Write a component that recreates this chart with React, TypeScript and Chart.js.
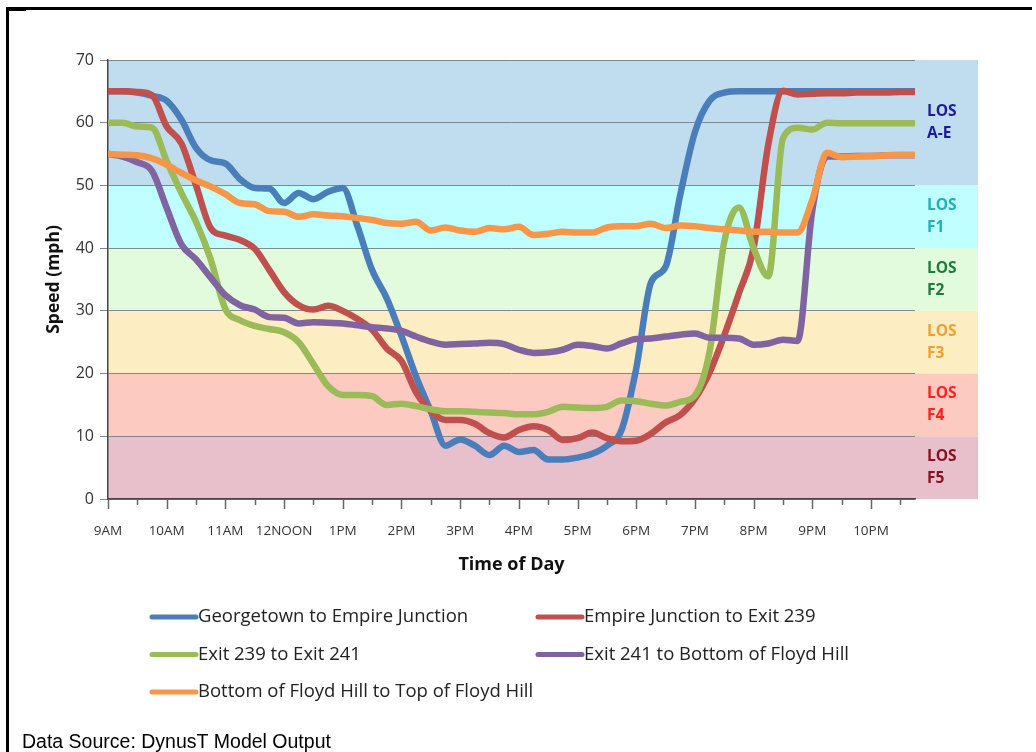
import React, { useEffect, useRef } from 'react';
import { Chart, registerables } from 'chart.js';
Chart.register(...registerables);

// ---- data ----
const HOURS = [0, 0.25, 0.5, 0.75, 1, 1.25, 1.5, 1.75, 2, 2.25, 2.5, 2.75, 3, 3.25, 3.5, 3.75, 4, 4.25, 4.5, 4.75, 5, 5.25, 5.5, 5.75, 6, 6.25, 6.5, 6.75, 7, 7.25, 7.5, 7.75, 8, 8.25, 8.5, 8.75, 9, 9.25, 9.5, 9.75, 10, 10.25, 10.5, 10.75, 11, 11.25, 11.5, 11.75, 12, 12.25, 12.5, 12.75, 13, 13.25, 13.5, 13.75];

const HOUR_LABELS = ['9AM', '10AM', '11AM', '12NOON', '1PM', '2PM', '3PM', '4PM', '5PM', '6PM', '7PM', '8PM', '9PM', '10PM'];
const TICK_VALUES = [0, 0.5, 1, 1.5, 2, 2.5, 3, 3.5, 4, 4.5, 5, 5.5, 6, 6.5, 7, 7.5, 8, 8.5, 9, 9.5, 10, 10.5, 11, 11.5, 12, 12.5, 13, 13.5];

const SERIES_NAMES = [
  'Georgetown to Empire Junction',
  'Empire Junction to Exit 239',
  'Exit 239 to Exit 241',
  'Exit 241 to Bottom of Floyd Hill',
  'Bottom of Floyd Hill to Top of Floyd Hill',
];

const GEORGETOWN = [65, 65, 64.8, 64.3, 63.5, 60.5, 56, 54, 53.5, 51, 49.6, 49.5, 47.2, 48.8, 47.8, 49, 49.6, 43.5, 36.5, 32, 26, 19.5, 14, 8.5, 9.5, 8.5, 7, 8.5, 7.5, 7.8, 6.3, 6.3, 6.6, 7.2, 8.5, 11, 20.8, 34.5, 37, 48.5, 58.5, 63.5, 64.8, 65, 65, 65, 65, 65, 65, 65, 65, 65, 65, 65, 65, 65];
const EMPIRE = [65, 65, 64.9, 64.4, 59.4, 56.7, 50, 43.2, 42, 41.3, 39.9, 36.5, 33, 30.9, 30.2, 30.8, 30, 28.7, 27, 24, 22, 17, 14, 12.6, 12.6, 12, 10.5, 9.8, 11, 11.6, 11, 9.4, 9.7, 10.6, 9.7, 9.2, 9.3, 10.4, 12.2, 13.4, 16, 20.2, 26.1, 32.8, 40, 56.5, 65.1, 64.5, 64.6, 64.7, 64.7, 64.8, 64.8, 64.8, 64.9, 64.9];
const EXIT239 = [60, 60, 59.4, 59.2, 53.9, 48.8, 44.2, 38.2, 30.3, 28.5, 27.6, 27.1, 26.6, 25, 21.5, 18, 16.6, 16.6, 16.4, 15, 15.2, 14.8, 14.3, 14, 14, 13.9, 13.8, 13.7, 13.5, 13.5, 13.9, 14.7, 14.6, 14.5, 14.7, 15.7, 15.6, 15.2, 14.9, 15.5, 16.5, 23.5, 41, 46.5, 40, 35.5, 57.5, 59.2, 58.9, 60, 59.9, 59.9, 59.9, 59.9, 59.9, 59.9];
const EXIT241 = [55, 54.6, 53.7, 52.3, 46.4, 40.6, 38.2, 35.3, 32.5, 30.9, 30.2, 29, 28.9, 28, 28.2, 28.1, 28, 27.7, 27.4, 27.2, 26.8, 25.9, 25.1, 24.6, 24.7, 24.8, 24.9, 24.7, 23.8, 23.3, 23.4, 23.8, 24.6, 24.4, 24, 24.8, 25.5, 25.6, 25.9, 26.2, 26.4, 25.7, 25.7, 25.6, 24.6, 24.8, 25.4, 25.2, 46, 54.6, 54.6, 54.7, 54.7, 54.8, 54.8, 54.8];
const FLOYD = [55, 54.9, 54.8, 54.3, 53.3, 52, 50.8, 49.8, 48.6, 47.2, 47, 45.9, 45.8, 45, 45.4, 45.2, 45.1, 44.8, 44.5, 44, 43.9, 44.2, 42.8, 43.3, 42.8, 42.6, 43.2, 43, 43.4, 42.1, 42.3, 42.6, 42.5, 42.5, 43.3, 43.5, 43.5, 43.9, 43.2, 43.6, 43.5, 43.2, 43, 42.8, 42.6, 42.6, 42.5, 42.5, 47.7, 55.2, 54.5, 54.6, 54.7, 54.8, 54.9, 54.9];

const SERIES_VALUES = [GEORGETOWN, EMPIRE, EXIT239, EXIT241, FLOYD];

const BAND_LOW = [50, 40, 30, 20, 10, 0];
const BAND_HIGH = [70, 50, 40, 30, 20, 10];
const BAND_NAMES = ['A-E', 'F1', 'F2', 'F3', 'F4', 'F5'];

// ---- styles ----
const SERIES_COLORS = ['#4a7ebb', '#c0504d', '#9bbb59', '#8064a2', '#f79646'];
const BAND_COLORS = ['#c0ddef', '#c0ffff', '#e2fbdc', '#fdedc3', '#fdcac1', '#e8c0cc'];
const LOS_COLORS = ['#1a1aa0', '#22b0b0', '#1a7d3e', '#f0a030', '#ff2020', '#8a1020'];
const FONT = '"Open Sans", "DejaVu Sans", sans-serif';

export default function App() {
  const ref = useRef<HTMLCanvasElement>(null);

  useEffect(() => {
    const canvas = ref.current;
    if (!canvas) return;

    const bandPlugin = {
      id: 'losBands',
      beforeDraw(chart: any) {
        const { ctx, chartArea } = chart;
        const y = chart.scales.y;
        ctx.save();
        for (let i = 0; i < BAND_LOW.length; i++) {
          const top = y.getPixelForValue(BAND_HIGH[i]);
          const bottom = y.getPixelForValue(BAND_LOW[i]);
          ctx.fillStyle = BAND_COLORS[i];
          ctx.fillRect(chartArea.left, top, chartArea.right - chartArea.left + 63, bottom - top);
          ctx.fillStyle = LOS_COLORS[i];
          ctx.font = `bold 15.5px ${FONT}`;
          ctx.textBaseline = 'middle';
          ctx.textAlign = 'left';
          const cy = (top + bottom) / 2;
          ctx.fillText('LOS', chartArea.right + 12, cy - 11);
          ctx.fillText(BAND_NAMES[i], chartArea.right + 12, cy + 11);
        }
        ctx.restore();
      },
    };

    const overlayPlugin = {
      id: 'overlay',
      afterDraw(chart: any) {
        const { ctx, chartArea } = chart;
        const x = chart.scales.x;
        ctx.save();
        // x tick marks (major / minor)
        ctx.strokeStyle = '#666';
        ctx.lineWidth = 1.5;
        for (const v of TICK_VALUES) {
          const px = Math.round(x.getPixelForValue(v)) + 0.5;
          const len = Number.isInteger(v) ? 10 : 6;
          ctx.beginPath();
          ctx.moveTo(px, chartArea.bottom);
          ctx.lineTo(px, chartArea.bottom + len);
          ctx.stroke();
        }
        // legend
        const colX = [152, 538];
        ctx.font = `18.5px ${FONT}`;
        ctx.textBaseline = 'middle';
        ctx.textAlign = 'left';
        for (let i = 0; i < SERIES_NAMES.length; i++) {
          const col = i % 2;
          const row = Math.floor(i / 2);
          const ly = 617 + row * 37.5;
          ctx.strokeStyle = SERIES_COLORS[i];
          ctx.lineWidth = 5;
          ctx.lineCap = 'round';
          ctx.beginPath();
          ctx.moveTo(colX[col], ly);
          ctx.lineTo(colX[col] + 44, ly);
          ctx.stroke();
          ctx.fillStyle = '#222';
          ctx.fillText(SERIES_NAMES[i], colX[col] + 46, ly);
        }
        // frame
        ctx.fillStyle = '#000';
        ctx.fillRect(6, 7, 1026, 3);
        ctx.fillRect(6, 7, 3, 745);
        ctx.fillRect(8, 9, 18, 2);
        // source note
        ctx.font = '19.5px "Liberation Sans", Arial, sans-serif';
        ctx.textBaseline = 'alphabetic';
        ctx.fillStyle = '#000';
        ctx.fillText('Data Source: DynusT Model Output', 22, 748);
        ctx.restore();
      },
    };

    const chart = new Chart(canvas, {
      type: 'line',
      data: {
        datasets: SERIES_VALUES.map((vals, i) => ({
          label: SERIES_NAMES[i],
          data: HOURS.map((h, j) => ({ x: h, y: vals[j] })),
          borderColor: SERIES_COLORS[i],
          backgroundColor: SERIES_COLORS[i],
          borderWidth: 6.5,
          pointRadius: 0,
          fill: false,
          cubicInterpolationMode: 'monotone',
          borderCapStyle: 'round',
          borderJoinStyle: 'round',
          order: SERIES_VALUES.length - i,
        })),
      },
      options: {
        responsive: false,
        animation: false,
        layout: { padding: { left: 36, right: 121, top: 60, bottom: 173 } },
        plugins: {
          legend: { display: false },
          tooltip: { enabled: false },
        },
        scales: {
          x: {
            type: 'linear',
            min: 0,
            max: 13.75,
            afterBuildTicks: (s: any) => {
              s.ticks = TICK_VALUES.map((v) => ({ value: v }));
            },
            afterFit: (s: any) => {
              s.height = 80;
            },
            grid: { display: false, drawTicks: true, tickLength: 9 },
            border: { display: true, color: '#444', width: 1.5 },
            ticks: {
              autoSkip: false,
              maxRotation: 0,
              padding: 15,
              color: '#333',
              font: { family: FONT, size: 13.5 },
              callback: (v: any) => (Number.isInteger(v) ? HOUR_LABELS[v] : ''),
            },
            title: {
              display: true,
              text: 'Time of Day',
              color: '#111',
              font: { family: FONT, size: 18, weight: 'bold' },
              padding: { top: 4, bottom: 3 },
            },
          },
          y: {
            min: 0,
            max: 70,
            afterFit: (s: any) => {
              s.width = 72;
            },
            ticks: {
              stepSize: 10,
              padding: 6,
              color: '#333',
              font: { family: FONT, size: 16 },
            },
            grid: { color: '#7f898e', lineWidth: 1, tickLength: 8 },
            border: { display: true, color: '#444', width: 1.5 },
            title: {
              display: true,
              text: 'Speed (mph)',
              color: '#111',
              font: { family: FONT, size: 17.5, weight: 'bold' },
              padding: { top: 8, bottom: 4 },
            },
          },
        },
      },
      plugins: [bandPlugin, overlayPlugin],
    } as any);

    return () => chart.destroy();
  }, []);

  return (
    <div style={{ position: 'absolute', left: 0, top: 0, width: 1036, height: 752, background: '#fff' }}>
      <canvas ref={ref} width={1036} height={752} style={{ display: 'block' }} />
    </div>
  );
}
